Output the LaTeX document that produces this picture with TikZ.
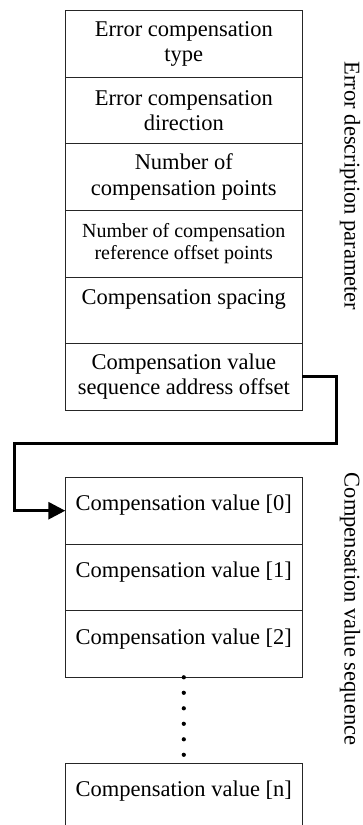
\documentclass[tikz,border=0pt]{standalone}
\usepackage{fontspec}
\setmainfont{Liberation Serif}
\usetikzlibrary{arrows.meta}
\begin{document}
\begin{tikzpicture}[x=1pt,y=-1pt,
  cell/.style={draw=black!85,line width=0.8pt,minimum width=237pt,minimum height=66.6pt,
    inner sep=0pt,outer sep=0pt,align=center,
    font=\fontsize{22.5}{25.5}\selectfont},
  smallcell/.style={cell,font=\fontsize{20}{22.5}\selectfont},
  valcell/.style={cell,text height=9pt,text depth=9pt},
  sidelabel/.style={rotate=-90,inner sep=0pt,font=\fontsize{22.5}{25.5}\selectfont},
  flow/.style={line width=3pt,-{Triangle[length=17pt,width=17pt]}},
  dots/.style={line width=4.2pt,line cap=round,dash pattern=on 0pt off 15.5pt}]
\useasboundingbox (0,0) rectangle (362,825);
\clip (0,0) rectangle (362,825);
\fill[white] (0,0) rectangle (362,825);
% error description parameter block
\node[cell] (r1) at (183.8,44.0) {Error compensation\\type};
\node[cell] (r2) at (183.8,110.5) {Error compensation\\direction};
\node[cell] (r3) at (183.8,177.1) {Number of\\compensation points};
\node[smallcell] (r4) at (183.8,243.7) {Number of compensation\\reference offset points};
\node[cell] (r5) at (183.8,310.2) {Compensation spacing\\\mbox{}};
\node[cell] (r6) at (183.8,376.8) {Compensation value\\sequence address offset};
% compensation value sequence
\node[valcell] (v0) at (183.8,510.7) {Compensation value [0]};
\node[valcell] (v1) at (183.8,577.3) {Compensation value [1]};
\node[valcell] (v2) at (183.8,644.0) {Compensation value [2]};
\node[valcell] (vn) at (183.8,796.6) {Compensation value [n]};
% side labels
\node[sidelabel] (lab1) at (350,186) {Error description parameter};
\node[sidelabel] (lab2) at (350,609) {Compensation value sequence};
% pointer arrow
\coordinate (c1) at (336,443.3);
\coordinate (c2) at (14.3,443.3);
\draw[flow] (r6.east) -| (c1) -- (c2) |- (v0.west);
% ellipsis dots
\coordinate (d1) at (183.8,755.5);
\draw[dots] (v2.south) -- (d1);
\end{tikzpicture}
\end{document}
